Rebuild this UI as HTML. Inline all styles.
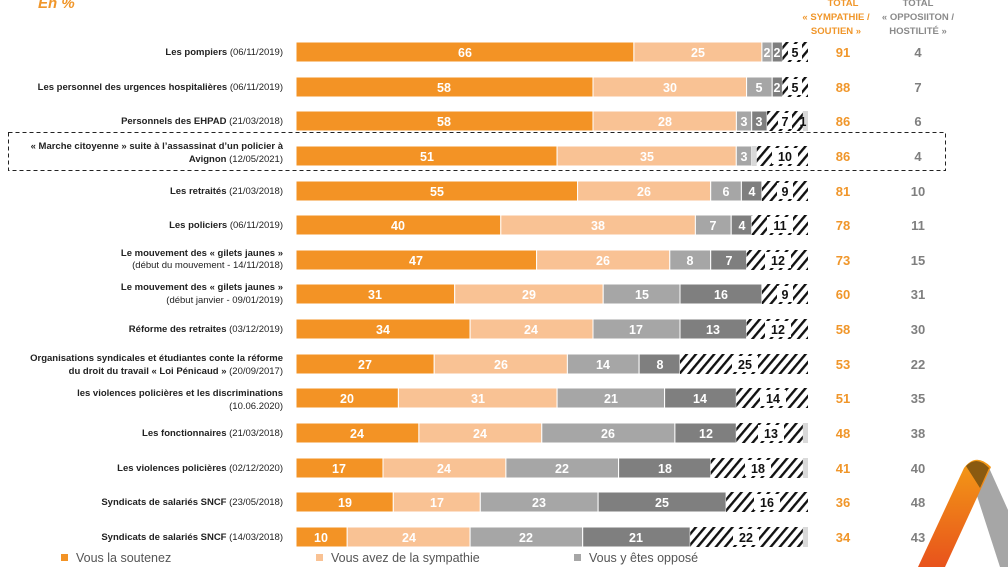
<!DOCTYPE html>
<html><head><meta charset="utf-8"><style>
body{margin:0;background:#fff;}
svg{display:block;font-family:"Liberation Sans",sans-serif;}
.l{font-size:9.5px;font-weight:bold;fill:#222;text-anchor:end}
.l tspan.n{font-weight:normal}
.v{font-size:12.5px;font-weight:bold;fill:#fff;text-anchor:middle}
.h{font-size:12.5px;font-weight:bold;fill:#111;text-anchor:middle}
.to{font-size:13px;font-weight:bold;fill:#f0962a;text-anchor:middle}
.tg{font-size:13px;font-weight:bold;fill:#7f7f7f;text-anchor:middle}
.a{fill:#f39325;stroke:#fff;stroke-width:1}
.b{fill:#f9c294;stroke:#fff;stroke-width:1}
.c{fill:#a6a6a6;stroke:#fff;stroke-width:1}
.d{fill:#7f7f7f;stroke:#fff;stroke-width:1}
.e{fill:url(#hatch)}
.f{fill:#d9d9d9}
</style></head><body>
<svg width="1008" height="567" viewBox="0 0 1008 567">
<defs>
<pattern id="hatch" width="7" height="7" patternUnits="userSpaceOnUse" patternTransform="rotate(40)">
<rect width="7" height="7" fill="#fff"/><rect width="2.4" height="7" fill="#111"/>
</pattern>
<linearGradient id="og" x1="0" y1="1" x2="0" y2="0"><stop offset="0" stop-color="#e8531c"/><stop offset="1" stop-color="#f39a16"/></linearGradient>
</defs>
<text x="38" y="8" style="font-size:15px;font-weight:bold;font-style:italic;fill:#f0962a">En %</text>
<g style="font-size:9.5px;font-weight:bold;fill:#f0962a;text-anchor:middle">
<text x="843" y="6">TOTAL</text><text x="836" y="20">« SYMPATHIE /</text><text x="836" y="34">SOUTIEN »</text></g>
<g style="font-size:9.5px;font-weight:bold;fill:#8a8a8a;text-anchor:middle">
<text x="918" y="6">TOTAL</text><text x="918" y="20">« OPPOSIITON /</text><text x="918" y="34">HOSTILITÉ »</text></g>

<rect x="8.5" y="132.5" width="937" height="38" fill="none" stroke="#222" stroke-dasharray="4,3"/>

<text class="l" x="283" y="55">Les pompiers <tspan class="n">(06/11/2019)</tspan></text>
<text class="l" x="283" y="90">Les personnel des urgences hospitalières <tspan class="n">(06/11/2019)</tspan></text>
<text class="l" x="283" y="124">Personnels des EHPAD  <tspan class="n">(21/03/2018)</tspan></text>
<text class="l" x="283" y="149">« Marche citoyenne » suite à l’assassinat d’un policier à</text>
<text class="l" x="283" y="162">Avignon <tspan class="n">(12/05/2021)</tspan></text>
<text class="l" x="283" y="194">Les retraités  <tspan class="n">(21/03/2018)</tspan></text>
<text class="l" x="283" y="228">Les policiers <tspan class="n">(06/11/2019)</tspan></text>
<text class="l" x="283" y="256">Le mouvement des « gilets jaunes »</text>
<text class="l" x="283" y="268"><tspan class="n">(début du mouvement - 14/11/2018)</tspan></text>
<text class="l" x="283" y="290">Le mouvement des « gilets jaunes »</text>
<text class="l" x="283" y="303"><tspan class="n">(début janvier - 09/01/2019)</tspan></text>
<text class="l" x="283" y="332">Réforme des retraites <tspan class="n">(03/12/2019)</tspan></text>
<text class="l" x="283" y="361">Organisations syndicales et étudiantes conte la réforme</text>
<text class="l" x="283" y="374">du droit du travail « Loi Pénicaud » <tspan class="n">(20/09/2017)</tspan></text>
<text class="l" x="283" y="396">les violences policières et les discriminations</text>
<text class="l" x="283" y="409"><tspan class="n">(10.06.2020)</tspan></text>
<text class="l" x="283" y="436">Les fonctionnaires <tspan class="n">(21/03/2018)</tspan></text>
<text class="l" x="283" y="471">Les violences policières <tspan class="n">(02/12/2020)</tspan></text>
<text class="l" x="283" y="505">Syndicats de salariés SNCF <tspan class="n">(23/05/2018)</tspan></text>
<text class="l" x="283" y="540">Syndicats de salariés SNCF <tspan class="n">(14/03/2018)</tspan></text>

<g transform="translate(0,42)">
<rect class="a" x="296" width="337.9" height="20"/><rect class="b" x="633.9" width="128" height="20"/><rect class="c" x="761.9" width="10.3" height="20"/><rect class="d" x="772.2" width="10.2" height="20"/><rect class="e" x="782.4" width="25.6" height="20"/>
<text class="v" x="465" y="15">66</text><text class="v" x="698" y="15">25</text><text class="v" x="767" y="15">2</text><text class="v" x="777" y="15">2</text><rect x="788" y="2" width="14" height="16" fill="#fff"/><text class="h" x="795" y="15">5</text>
<text class="to" x="843" y="15">91</text><text class="tg" x="918" y="15">4</text></g>
<g transform="translate(0,77)">
<rect class="a" x="296" width="297" height="20"/><rect class="b" x="593" width="153.6" height="20"/><rect class="c" x="746.6" width="25.6" height="20"/><rect class="d" x="772.2" width="10.2" height="20"/><rect class="e" x="782.4" width="25.6" height="20"/>
<text class="v" x="444" y="15">58</text><text class="v" x="670" y="15">30</text><text class="v" x="759" y="15">5</text><text class="v" x="777" y="15">2</text><rect x="788" y="2" width="14" height="16" fill="#fff"/><text class="h" x="795" y="15">5</text>
<text class="to" x="843" y="15">88</text><text class="tg" x="918" y="15">7</text></g>
<g transform="translate(0,111)">
<rect class="a" x="296" width="297" height="20"/><rect class="b" x="593" width="143.4" height="20"/><rect class="c" x="736.4" width="15.3" height="20"/><rect class="d" x="751.7" width="15.4" height="20"/><rect class="e" x="767.1" width="35.8" height="20"/><rect class="f" x="802.9" width="5.1" height="20"/>
<text class="v" x="444" y="15">58</text><text class="v" x="665" y="15">28</text><text class="v" x="744" y="15">3</text><text class="v" x="759" y="15">3</text><rect x="778" y="2" width="14" height="16" fill="#fff"/><text class="h" x="785" y="15">7</text><text class="h" x="803" y="15">1</text>
<text class="to" x="843" y="15">86</text><text class="tg" x="918" y="15">6</text></g>
<g transform="translate(0,146)">
<rect class="a" x="296" width="261.1" height="20"/><rect class="b" x="557.1" width="179.2" height="20"/><rect class="c" x="736.3" width="15.4" height="20"/><rect class="f" x="751.7" width="5.1" height="20"/><rect class="e" x="756.8" width="51.2" height="20"/>
<text class="v" x="427" y="15">51</text><text class="v" x="647" y="15">35</text><text class="v" x="744" y="15">3</text><rect x="772" y="2" width="26" height="16" fill="#fff"/><text class="h" x="785" y="15">10</text>
<text class="to" x="843" y="15">86</text><text class="tg" x="918" y="15">4</text></g>
<g transform="translate(0,181)">
<rect class="a" x="296" width="281.6" height="20"/><rect class="b" x="577.6" width="133.1" height="20"/><rect class="c" x="710.7" width="30.7" height="20"/><rect class="d" x="741.4" width="20.5" height="20"/><rect class="e" x="761.9" width="46.1" height="20"/>
<text class="v" x="437" y="15">55</text><text class="v" x="644" y="15">26</text><text class="v" x="726" y="15">6</text><text class="v" x="752" y="15">4</text><rect x="777" y="2" width="16" height="16" fill="#fff"/><text class="h" x="785" y="15">9</text>
<text class="to" x="843" y="15">81</text><text class="tg" x="918" y="15">10</text></g>
<g transform="translate(0,215)">
<rect class="a" x="296" width="204.8" height="20"/><rect class="b" x="500.8" width="194.6" height="20"/><rect class="c" x="695.4" width="35.8" height="20"/><rect class="d" x="731.2" width="20.5" height="20"/><rect class="e" x="751.7" width="56.3" height="20"/>
<text class="v" x="398" y="15">40</text><text class="v" x="598" y="15">38</text><text class="v" x="713" y="15">7</text><text class="v" x="742" y="15">4</text><rect x="767" y="2" width="26" height="16" fill="#fff"/><text class="h" x="780" y="15">11</text>
<text class="to" x="843" y="15">78</text><text class="tg" x="918" y="15">11</text></g>
<g transform="translate(0,250)">
<rect class="a" x="296" width="240.6" height="20"/><rect class="b" x="536.6" width="133.2" height="20"/><rect class="c" x="669.8" width="40.9" height="20"/><rect class="d" x="710.7" width="35.9" height="20"/><rect class="e" x="746.6" width="61.4" height="20"/>
<text class="v" x="416" y="15">47</text><text class="v" x="603" y="15">26</text><text class="v" x="690" y="15">8</text><text class="v" x="729" y="15">7</text><rect x="765" y="2" width="26" height="16" fill="#fff"/><text class="h" x="778" y="15">12</text>
<text class="to" x="843" y="15">73</text><text class="tg" x="918" y="15">15</text></g>
<g transform="translate(0,284)">
<rect class="a" x="296" width="158.7" height="20"/><rect class="b" x="454.7" width="148.5" height="20"/><rect class="c" x="603.2" width="76.8" height="20"/><rect class="d" x="680" width="81.9" height="20"/><rect class="e" x="761.9" width="46.1" height="20"/>
<text class="v" x="375" y="15">31</text><text class="v" x="529" y="15">29</text><text class="v" x="642" y="15">15</text><text class="v" x="721" y="15">16</text><rect x="777" y="2" width="16" height="16" fill="#fff"/><text class="h" x="785" y="15">9</text>
<text class="to" x="843" y="15">60</text><text class="tg" x="918" y="15">31</text></g>
<g transform="translate(0,319)">
<rect class="a" x="296" width="174.1" height="20"/><rect class="b" x="470.1" width="122.9" height="20"/><rect class="c" x="593" width="87" height="20"/><rect class="d" x="680" width="66.6" height="20"/><rect class="e" x="746.6" width="61.4" height="20"/>
<text class="v" x="383" y="15">34</text><text class="v" x="531" y="15">24</text><text class="v" x="636" y="15">17</text><text class="v" x="713" y="15">13</text><rect x="765" y="2" width="26" height="16" fill="#fff"/><text class="h" x="778" y="15">12</text>
<text class="to" x="843" y="15">58</text><text class="tg" x="918" y="15">30</text></g>
<g transform="translate(0,354)">
<rect class="a" x="296" width="138.2" height="20"/><rect class="b" x="434.2" width="133.2" height="20"/><rect class="c" x="567.4" width="71.7" height="20"/><rect class="d" x="639.1" width="40.9" height="20"/><rect class="e" x="680" width="128" height="20"/>
<text class="v" x="365" y="15">27</text><text class="v" x="501" y="15">26</text><text class="v" x="603" y="15">14</text><text class="v" x="660" y="15">8</text><rect x="732" y="2" width="26" height="16" fill="#fff"/><text class="h" x="745" y="15">25</text>
<text class="to" x="843" y="15">53</text><text class="tg" x="918" y="15">22</text></g>
<g transform="translate(0,388)">
<rect class="a" x="296" width="102.4" height="20"/><rect class="b" x="398.4" width="158.7" height="20"/><rect class="c" x="557.1" width="107.5" height="20"/><rect class="d" x="664.6" width="71.7" height="20"/><rect class="e" x="736.3" width="71.7" height="20"/>
<text class="v" x="347" y="15">20</text><text class="v" x="478" y="15">31</text><text class="v" x="611" y="15">21</text><text class="v" x="700" y="15">14</text><rect x="760" y="2" width="26" height="16" fill="#fff"/><text class="h" x="773" y="15">14</text>
<text class="to" x="843" y="15">51</text><text class="tg" x="918" y="15">35</text></g>
<g transform="translate(0,423)">
<rect class="a" x="296" width="122.9" height="20"/><rect class="b" x="418.9" width="122.9" height="20"/><rect class="c" x="541.8" width="133.1" height="20"/><rect class="d" x="674.9" width="61.4" height="20"/><rect class="e" x="736.3" width="66.6" height="20"/><rect class="f" x="802.9" width="5.1" height="20"/>
<text class="v" x="357" y="15">24</text><text class="v" x="480" y="15">24</text><text class="v" x="608" y="15">26</text><text class="v" x="706" y="15">12</text><rect x="758" y="2" width="26" height="16" fill="#fff"/><text class="h" x="771" y="15">13</text>
<text class="to" x="843" y="15">48</text><text class="tg" x="918" y="15">38</text></g>
<g transform="translate(0,458)">
<rect class="a" x="296" width="87" height="20"/><rect class="b" x="383" width="122.9" height="20"/><rect class="c" x="505.9" width="112.7" height="20"/><rect class="d" x="618.6" width="92.1" height="20"/><rect class="e" x="710.7" width="92.2" height="20"/><rect class="f" x="802.9" width="5.1" height="20"/>
<text class="v" x="339" y="15">17</text><text class="v" x="444" y="15">24</text><text class="v" x="562" y="15">22</text><text class="v" x="665" y="15">18</text><rect x="745" y="2" width="26" height="16" fill="#fff"/><text class="h" x="758" y="15">18</text>
<text class="to" x="843" y="15">41</text><text class="tg" x="918" y="15">40</text></g>
<g transform="translate(0,492)">
<rect class="a" x="296" width="97.3" height="20"/><rect class="b" x="393.3" width="87" height="20"/><rect class="c" x="480.3" width="117.8" height="20"/><rect class="d" x="598.1" width="128" height="20"/><rect class="e" x="726.1" width="81.9" height="20"/>
<text class="v" x="345" y="15">19</text><text class="v" x="437" y="15">17</text><text class="v" x="539" y="15">23</text><text class="v" x="662" y="15">25</text><rect x="754" y="2" width="26" height="16" fill="#fff"/><text class="h" x="767" y="15">16</text>
<text class="to" x="843" y="15">36</text><text class="tg" x="918" y="15">48</text></g>
<g transform="translate(0,527)">
<rect class="a" x="296" width="51.2" height="20"/><rect class="b" x="347.2" width="122.9" height="20"/><rect class="c" x="470.1" width="112.6" height="20"/><rect class="d" x="582.7" width="107.5" height="20"/><rect class="e" x="690.2" width="112.7" height="20"/><rect class="f" x="802.9" width="5.1" height="20"/>
<text class="v" x="321" y="15">10</text><text class="v" x="409" y="15">24</text><text class="v" x="526" y="15">22</text><text class="v" x="636" y="15">21</text><rect x="733" y="2" width="26" height="16" fill="#fff"/><text class="h" x="746" y="15">22</text>
<text class="to" x="843" y="15">34</text><text class="tg" x="918" y="15">43</text></g>

<g style="font-size:12.5px;fill:#555">
<rect x="61" y="554" width="7" height="7" fill="#f39325"/><text x="76" y="562">Vous la soutenez</text>
<rect x="316" y="554" width="7" height="7" fill="#f9c294"/><text x="331" y="562">Vous avez de la sympathie</text>
<rect x="574" y="554" width="7" height="7" fill="#a6a6a6"/><text x="589" y="562">Vous y êtes opposé</text>
</g>
<path d="M968,468 L990,470 L1008,510 L1008,567 L1000,567 Z" fill="#a6a6a6"/>
<path d="M964,468 Q976,452 991,467 L945,567 L918,567 Z" fill="url(#og)"/>
<path d="M966,466 Q977,455 989,468 L980,488 Z" fill="#8a5a10"/>
</svg>
</body></html>
